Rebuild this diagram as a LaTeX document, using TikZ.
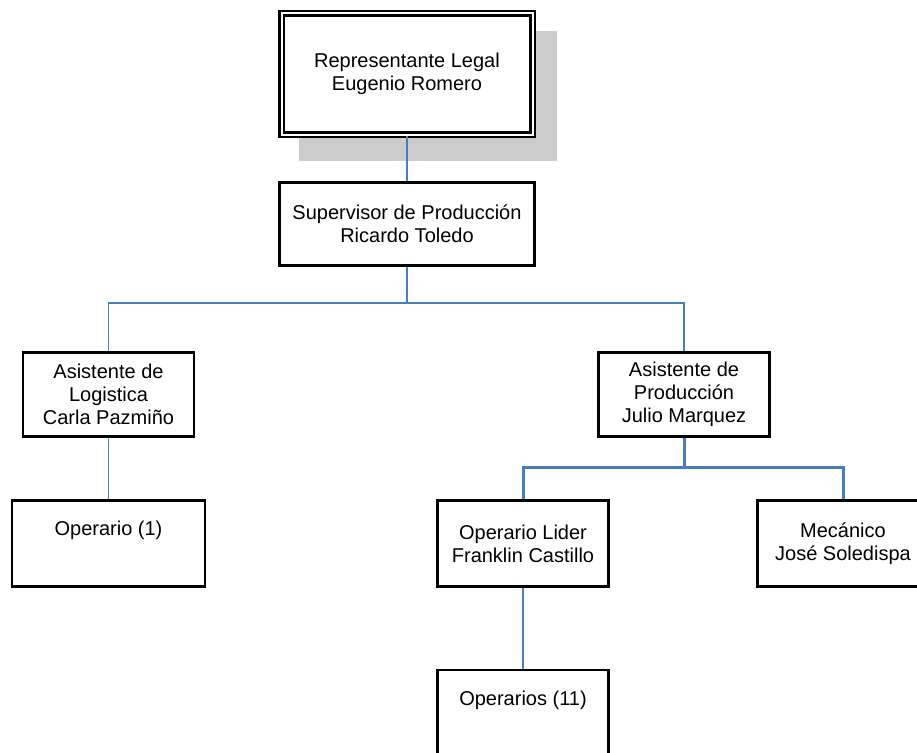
\documentclass[tikz,border=0pt]{standalone}
\usepackage{fontspec}
\setmainfont{Liberation Sans}
\definecolor{linkblue}{RGB}{74,126,187}
\definecolor{shadowgray}{RGB}{204,204,204}
\tikzset{
  box/.style={draw=black, line width=2.5pt, fill=white, align=center, inner sep=0pt,
    minimum width=171pt, minimum height=84pt, font=\fontsize{20}{23}\selectfont},
  topbox/.style={box, double=white, double distance=2pt, line width=2.3pt,
    minimum width=251pt, minimum height=121pt},
  link/.style={draw=linkblue, line width=1.3pt},
  thicklink/.style={draw=linkblue, line width=3pt},
}
\begin{document}
\begin{tikzpicture}[x=1pt, y=-1pt]
\useasboundingbox (0,0) rectangle (917,752);
% shadow
\fill[shadowgray] (299,31) rectangle (557,161);
% nodes
\node[topbox] (rep) at (407,74) {Representante Legal\\Eugenio Romero};
\node[box, minimum width=255pt, minimum height=83pt] (sup) at (407,224) {Supervisor de Producción\\Ricardo Toledo};
\node[box] (asl) at (108.5,394.5) {Asistente de\\Logistica\\Carla Pazmiño};
\node[box] (asp) at (684,394.5) {Asistente de\\Producción\\Julio Marquez};
\node[box, minimum width=193pt, minimum height=86pt] (op1) at (108.5,543.5) {Operario (1)\\\strut};
\node[box, minimum height=86pt] (lid) at (523,543.5) {Operario Lider\\Franklin Castillo};
\node[box, minimum height=86pt] (mec) at (843,543.5) {Mecánico\\José Soledispa};
\node[box, minimum height=86pt] (ops) at (523,713) {Operarios (11)\\\strut};
% connectors
\coordinate (j1) at (407,303);
\coordinate (j2) at (684,467);
\draw[link, line width=2.6pt] (rep.south) -- (sup.north);
\draw[link, line width=1.8pt] (sup.south) -- (j1);
\draw[link] (j1) -| (asl.north);
\draw[link] (j1) -| (asp.north);
\draw[link] (asl.south) -- (op1.north);
\draw[thicklink] (asp.south) -- (j2);
\draw[thicklink] (j2) -| (lid.north);
\draw[thicklink] (j2) -| (mec.north);
\draw[link, line width=1.6pt] (lid.south) -- (ops.north);
\end{tikzpicture}
\end{document}
